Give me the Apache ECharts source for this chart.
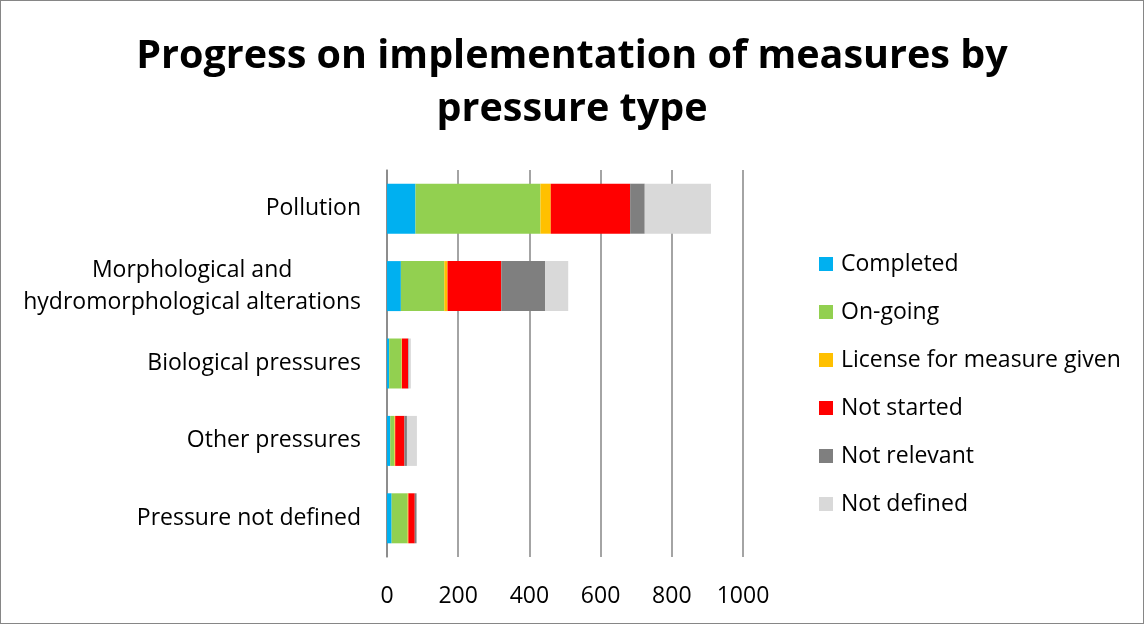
<!DOCTYPE html>
<html>
<head>
<meta charset="utf-8">
<script src="https://cdn.jsdelivr.net/npm/echarts@6/dist/echarts.min.js"></script>
<style>
html,body{margin:0;padding:0;background:#fff;}
#c{width:1144px;height:624px;box-sizing:border-box;border:1px solid #868686;}
</style>
</head>
<body>
<div id="c"></div>
<script>
const categories = ['Pollution', 'Morphological and hydromorphological alterations', 'Biological pressures', 'Other pressures', 'Pressure not defined'];
const seriesNames = ['Completed', 'On-going', 'License for measure given', 'Not started', 'Not relevant', 'Not defined'];
const completed    = [80, 39, 6, 9, 13];
const ongoing      = [351, 122, 35, 12, 45];
const license      = [29, 9, 1, 2, 2];
const notStarted   = [223, 151, 17, 26, 18];
const notRelevant  = [41, 123, 2, 7, 5];
const notDefined   = [186, 65, 6, 28, 0];
const xTicks = [0, 200, 400, 600, 800, 1000];
const colors = ['#00B0F0', '#92D050', '#FFC000', '#FF0000', '#7F7F7F', '#D9D9D9'];
const values = [completed, ongoing, license, notStarted, notRelevant, notDefined];
const FONT = 'Open Sans';

const chart = echarts.init(document.getElementById('c'));
chart.setOption({
  animation: false,
  textStyle: {fontFamily: FONT},
  title: {
    text: 'Progress on implementation of measures by\npressure type',
    left: 'center',
    top: 24,
    textStyle: {fontFamily: FONT, fontSize: 39.5, fontWeight: 'bold', color: '#000', lineHeight: 53}
  },
  legend: {
    orient: 'vertical',
    left: 813,
    top: 246,
    icon: 'rect',
    itemWidth: 14,
    itemHeight: 14,
    itemGap: 24,
    data: seriesNames,
    textStyle: {fontFamily: FONT, fontSize: 23, color: '#000', lineHeight: 24, padding: [0, 0, 0, 3]}
  },
  grid: {left: 386, right: 400, top: 169, bottom: 66, containLabel: false},
  xAxis: {
    type: 'value',
    min: xTicks[0],
    max: xTicks[xTicks.length - 1],
    interval: 200,
    axisLine: {show: false},
    axisTick: {show: false},
    axisLabel: {fontFamily: FONT, fontSize: 23, color: '#000', margin: 28, formatter: v => String(v)},
    splitLine: {lineStyle: {color: '#868686', width: 1.5}}
  },
  yAxis: {
    type: 'category',
    inverse: true,
    data: categories,
    axisLine: {show: true, lineStyle: {color: '#868686', width: 1.5}},
    axisTick: {show: false},
    axisLabel: {
      fontFamily: FONT, fontSize: 23, color: '#000', margin: 26,
      formatter: function (v) {
        if (v === categories[1]) return '{c|Morphological and}\n{c|hydromorphological alterations}';
        return v;
      },
      rich: {c: {fontFamily: FONT, fontSize: 23, color: '#000', align: 'center', lineHeight: 32}}
    }
  },
  series: seriesNames.map((n, i) => ({
    name: n,
    type: 'bar',
    stack: 'total',
    barWidth: 50,
    itemStyle: {color: colors[i]},
    data: values[i]
  }))
});
</script>
</body>
</html>
